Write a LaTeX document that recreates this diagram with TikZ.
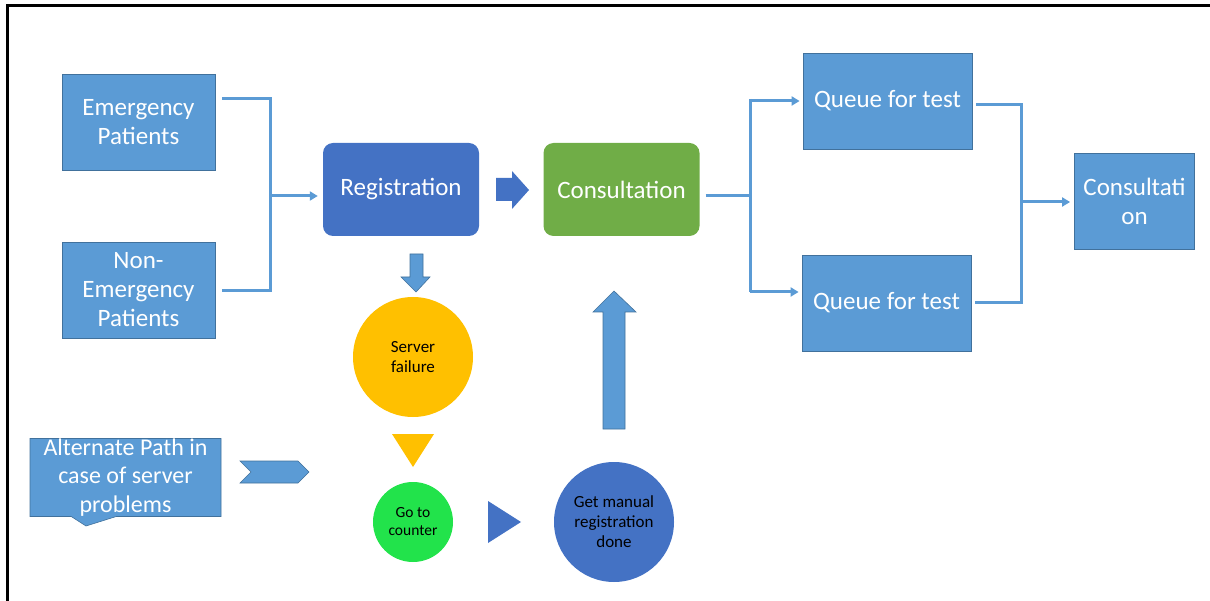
\documentclass[tikz,border=0pt]{standalone}
\usepackage{fontspec}
\setmainfont{Carlito}
\usetikzlibrary{arrows.meta,shapes.callouts}

\definecolor{boxblue}{HTML}{5B9BD5}
\definecolor{boxedge}{HTML}{41719C}
\definecolor{regblue}{HTML}{4472C4}
\definecolor{consgreen}{HTML}{70AD47}
\definecolor{failyellow}{HTML}{FFC000}
\definecolor{countergreen}{HTML}{22E34B}

\tikzset{
  stage/.style={draw=boxedge, line width=0.8pt, fill=boxblue, text=white, align=center,
    inner sep=0pt, font=\fontsize{25}{29}\selectfont},
  mainstep/.style={rounded corners=10pt, fill=#1, text=white, inner sep=0pt,
    minimum width=156pt, minimum height=93pt, font=\fontsize{25}{29}\selectfont},
  event/.style={circle, fill=#1, text=black, align=center, inner sep=0pt,
    font=\fontsize{17}{20}\selectfont},
  conn/.style={draw=boxblue, line width=3pt},
  connarrow/.style={conn, -{Triangle[length=8pt,width=9pt]}},
  blockarrow/.style={fill=boxblue, draw=boxedge, line width=0.6pt},
}

\begin{document}
\begin{tikzpicture}[x=1pt, y=-1pt]
  \useasboundingbox (0,0) rectangle (1210,601);
  % frame
  \draw[line width=3pt] (7,603) -- (7,6) -- (1212,6);

  % patients
  \node[stage, minimum width=153pt, minimum height=96pt] (emer) at (138.5,122) {Emergency\\Patients};
  \node[stage, minimum width=153pt, minimum height=96pt] (nonemer) at (138.5,290) {Non-\\Emergency\\Patients};

  % main steps
  \node[mainstep=regblue] (reg) at (401,189.5) {Registration};
  \node[mainstep=consgreen] (cons) at (621.5,189.5) {Consultation};

  % tests
  \node[stage, minimum width=169pt, minimum height=96pt] (queueA) at (887.5,101) {Queue for test};
  \node[stage, minimum width=169pt, minimum height=96pt] (queueB) at (886.5,303) {Queue for test};
  \node[stage, minimum width=120pt, minimum height=96pt] (consB) at (1134.5,201) {Consultati\\on};

  % server problems
  \node[event=failyellow, minimum size=120pt] (failure) at (413,357) {Server\\failure};
  \node[event=countergreen, minimum size=80pt, font=\fontsize{15.5}{18}\selectfont] (counter) at (413,522) {Go to\\counter};
  \node[event=regblue, minimum size=120pt] (manual) at (614,522) {Get manual\\registration\\done};

  % alternate path note
  \node[rectangle callout, callout absolute pointer={(86,526)}, callout pointer width=45pt,
    fill=boxblue, draw=boxedge, line width=0.6pt, text=white, align=center,
    minimum width=191pt, minimum height=78pt, inner xsep=0pt, inner ysep=-3pt,
    font=\fontsize{24}{28.5}\selectfont] (alt) at (125.5,477.5)
    {Alternate Path in\\case of server\\problems};

  % merge into registration
  \coordinate (mergeL) at (270,196);
  \draw[conn] ([xshift=7pt,yshift=23pt]emer.east) -| (mergeL) |- ([xshift=7pt,yshift=-1pt]nonemer.east);
  \draw[connarrow, shorten >=5pt] (mergeL) -- (mergeL -| reg.west);

  % split to the queues
  \coordinate (splitR) at (750,196);
  \coordinate (upR) at (750,101);
  \coordinate (downR) at (750,292);
  \draw[conn, shorten <=6pt] (splitR -| cons.east) -- (splitR);
  \draw[conn] ([yshift=2pt]upR) -- (downR);
  \draw[connarrow, shorten >=3pt] (upR) -- (upR -| queueA.west);
  \draw[connarrow, shorten >=3pt] (downR) -- (downR -| queueB.west);

  % merge into second consultation
  \coordinate (mergeR) at (1021,202);
  \draw[conn] ([xshift=4pt,yshift=-4pt]queueA.east) -| (mergeR) |- ([xshift=4pt]queueB.east);
  \draw[connarrow, shorten >=4pt] (mergeR) -- (mergeR -| consB.west);

  % block arrows
  \fill[regblue] (496,178) -- (512,178) -- (512,171) -- (529,190) -- (512,209) -- (512,201) -- (496,201) -- cycle;
  \filldraw[blockarrow] (410,254) -- (423,254) -- (423,277) -- (430,277) -- (416,292) -- (401,277) -- (410,277) -- cycle;
  \filldraw[blockarrow] (603,429) -- (625,429) -- (625,312) -- (636,312) -- (614,291) -- (593,312) -- (603,312) -- cycle;
  \filldraw[blockarrow] (240,461) -- (298,461) -- (309,472) -- (298,483) -- (240,483) -- (251,472) -- cycle;

  % triangles
  \fill[failyellow] (392,434) -- (434,434) -- (413,467) -- cycle;
  \fill[regblue] (488,501) -- (521,522) -- (488,543) -- cycle;
\end{tikzpicture}
\end{document}
